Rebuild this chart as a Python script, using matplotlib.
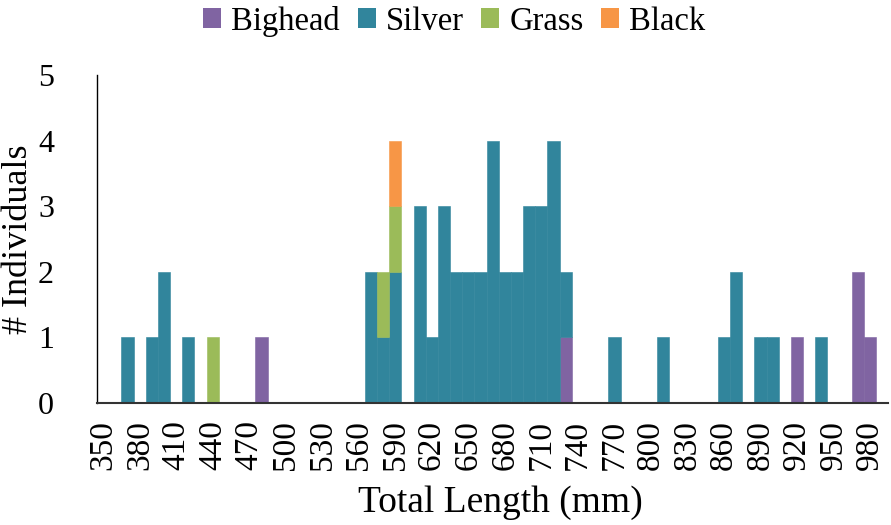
import matplotlib.pyplot as plt
import numpy as np
from matplotlib.patches import Patch

plt.rcParams["font.family"] = ["Liberation Serif", "DejaVu Serif"]

# length classes (mm), 10 mm wide
lengths = list(range(350, 1000, 10))

# counts per length class, only non-empty classes listed
bighead = {480: 1, 730: 1, 920: 1, 970: 2, 980: 1}
silver = {370: 1, 390: 1, 400: 2, 420: 1, 570: 2, 580: 1, 590: 2, 610: 3,
          620: 1, 630: 3, 640: 2, 650: 2, 660: 2, 670: 4, 680: 2, 690: 2,
          700: 3, 710: 3, 720: 4, 730: 1, 770: 1, 810: 1, 860: 1, 870: 2,
          890: 1, 900: 1, 940: 1}
grass = {440: 1, 580: 1, 590: 1}
black = {590: 1}

species = ["Bighead", "Silver", "Grass", "Black"]
colors = ["#8064A2", "#31859C", "#9BBB59", "#F79646"]

fig = plt.figure(figsize=(8.91, 5.25), dpi=100)
ax = fig.add_axes([0.109, 0.2324, 0.888, 0.6248])

x = np.arange(len(lengths))
bottom = np.zeros(len(lengths))
for name, counts, color in zip(species, [bighead, silver, grass, black], colors):
    vals = np.array([counts.get(l, 0) for l in lengths], dtype=float)
    nz = vals > 0  # skip empty classes so no stray edges are drawn
    # edge in the fill colour hides the seams between neighbouring bars
    ax.bar(x[nz], vals[nz], width=1.0, bottom=bottom[nz], color=color,
           edgecolor=color, linewidth=0.4)
    bottom += vals

ax.set_xlim(-0.5, len(lengths) - 0.5)
ax.set_ylim(0, 5)
ax.set_yticks(range(6))
ax.set_xticks(x[::3])
ax.set_xticklabels([str(l) for l in lengths[::3]], rotation=90)
ax.tick_params(axis="x", length=0, labelsize=24, pad=12)
ax.tick_params(axis="y", length=0, labelsize=23, pad=31)

for s in ["top", "right"]:
    ax.spines[s].set_visible(False)
ax.spines["left"].set_linewidth(1.0)
ax.spines["bottom"].set_linewidth(1.5)
ax.spines["bottom"].set_color("#333333")

ax.set_ylabel("# Individuals", fontsize=26)
ax.yaxis.set_label_coords(-0.078, 0.5)
ax.set_xlabel("Total Length (mm)", fontsize=27)
ax.xaxis.set_label_coords(0.51, -0.25)

handles = [Patch(facecolor=c, label=n) for n, c in zip(species, colors)]
fig.legend(handles=handles, loc="upper center", bbox_to_anchor=(0.51, 1.045),
           ncol=4, frameon=False, fontsize=23.5, handlelength=0.55,
           handleheight=0.55, handletextpad=0.3, columnspacing=0.55)

fig.savefig("out.png", dpi=100)
